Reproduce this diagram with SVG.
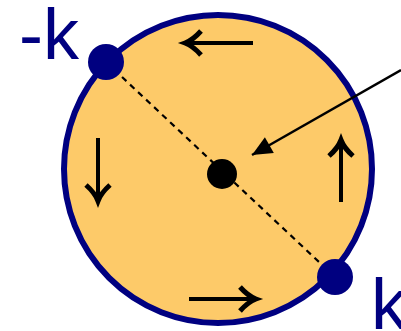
<svg xmlns="http://www.w3.org/2000/svg" width="401" height="331" viewBox="0 0 401 331">
<style>
.lbl{font-family:"Liberation Sans",Arial,sans-serif;font-size:72px;fill:#000080}
.flow{stroke:#000;stroke-width:4;fill:none;marker-end:url(#chev)}
</style>
<defs>
<marker id="chev" markerUnits="userSpaceOnUse" viewBox="-22 -16 26 32" refX="0" refY="0" markerWidth="26" markerHeight="32" orient="auto" overflow="visible">
<path d="M-16,-12 Q-8,-3 0,0 Q-8,3 -16,12" fill="none" stroke="#000" stroke-width="5"/>
</marker>
<marker id="tri" markerUnits="userSpaceOnUse" viewBox="-20 -9 20 18" refX="0" refY="0" markerWidth="20" markerHeight="18" orient="auto" overflow="visible">
<path d="M0,0 L-20,-9 L-20,9 Z" fill="#000"/>
</marker>
</defs>
<g id="circle">
<circle cx="218" cy="169" r="154" fill="#FDCA69" stroke="#000080" stroke-width="6"/>
</g>
<g id="connectors">
<line x1="106" y1="62" x2="335" y2="277" stroke="#000" stroke-width="2.2" stroke-dasharray="6,5"/>
<line x1="401" y1="70" x2="252" y2="155" stroke="#000" stroke-width="2.5" marker-end="url(#tri)"/>
<line class="flow" x1="253" y1="43" x2="185" y2="43"/>
<line class="flow" x1="98" y1="138" x2="98" y2="201"/>
<line class="flow" x1="341" y1="202" x2="341" y2="140"/>
<line class="flow" x1="189" y1="299" x2="256" y2="299"/>
</g>
<g id="center">
<circle cx="222" cy="174" r="15" fill="#000"/>
</g>
<g id="minus-k">
<circle cx="106" cy="62" r="18" fill="#000080"/>
<text class="lbl" x="19" y="59">-k</text>
</g>
<g id="k">
<circle cx="335" cy="277" r="18" fill="#000080"/>
<text class="lbl" x="371" y="329">k</text>
</g>
</svg>
